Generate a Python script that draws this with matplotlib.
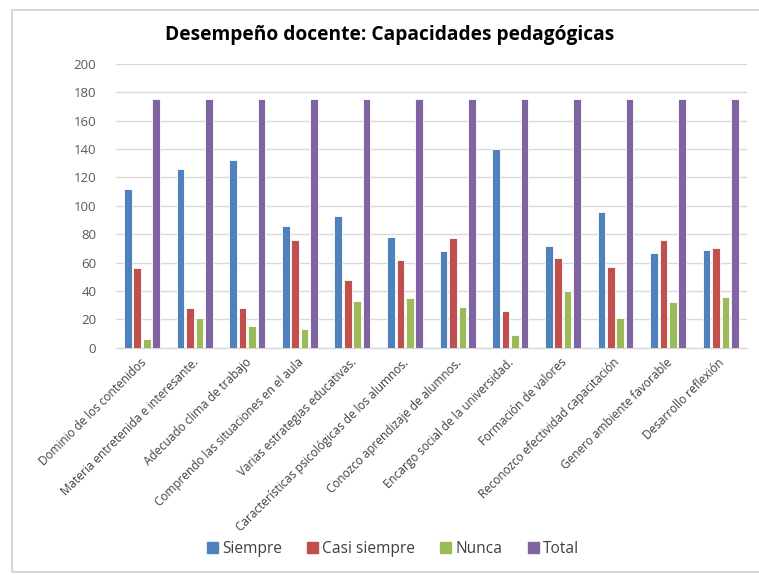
import matplotlib.pyplot as plt
import matplotlib.patches as mpatches
import numpy as np

# ── Data ──────────────────────────────────────────────────────────────────────

categories = [
    "Dominio de los contenidos",
    "Materia entretenida e interesante.",
    "Adecuado clima de trabajo",
    "Comprendo las situaciones en el aula",
    "Varias estrategias educativas.",
    "Características psicológicas de los alumnos.",
    "Conozco aprendizaje de alumnos.",
    "Encargo social de la universidad.",
    "Formación de valores",
    "Reconozco efectividad capacitación",
    "Genero ambiente favorable",
    "Desarrollo reflexión",
]
siempre      = [112, 126, 132, 86, 93, 78, 68, 140, 72, 96, 67, 69]
casi_siempre = [56, 28, 28, 76, 48, 62, 77, 26, 63, 57, 76, 70]
nunca        = [6, 21, 15, 13, 33, 35, 29, 9, 40, 21, 32, 36]
total        = [175, 175, 175, 175, 175, 175, 175, 175, 175, 175, 175, 175]

series_names = ["Siempre", "Casi siempre", "Nunca", "Total"]
series_colors = ["#4F81BD", "#C0504D", "#9BBB59", "#8064A2"]
yticks = [0, 20, 40, 60, 80, 100, 120, 140, 160, 180, 200]

# ── Figure ────────────────────────────────────────────────────────────────────

W, H = 759, 575
fig = plt.figure(figsize=(W / 100, H / 100), dpi=100)
plt.rcParams["font.family"] = ["Open Sans", "DejaVu Sans"]

# outer chart frame
fig.patches.append(mpatches.Rectangle(
    (12 / W, 3 / H), 1.0, (572 - 10) / H, transform=fig.transFigure,
    fill=False, edgecolor="#d0d0d0", linewidth=1.2))

ax = fig.add_axes([115.7 / W, 1 - 347.7 / H, (747 - 115.7) / W, (347.7 - 64) / H])

x = np.arange(len(categories))
step = 0.179
width = 0.145
all_series = [siempre, casi_siempre, nunca, total]
for i, (vals, name, col) in enumerate(zip(all_series, series_names, series_colors)):
    offs = (i - 1.5) * step
    ax.bar(x + offs, vals, width, color=col, label=name,
           edgecolor="white", linewidth=0.6, zorder=3)

ax.set_xlim(-0.5, len(categories) - 0.5)
ax.set_ylim(0, 200)
ax.set_yticks(yticks)
ax.set_yticklabels([str(v) for v in yticks], fontsize=9.5, color="#595959")
ax.grid(axis="y", color="#d9d9d9", linewidth=1.0, zorder=0)
ax.tick_params(axis="y", length=0, pad=14)
ax.tick_params(axis="x", length=0, pad=6)
for s in ["top", "right", "left"]:
    ax.spines[s].set_visible(False)
ax.spines["bottom"].set_color("#d9d9d9")
ax.spines["bottom"].set_linewidth(1.0)

ax.set_xticks(x - 0.05)
ax.set_xticklabels(categories, rotation=45, ha="right", rotation_mode="anchor",
                   fontsize=8.5, color="#404040")

fig.text(390 / W, 1 - 35 / H, "Desempeño docente: Capacidades pedagógicas",
         ha="center", va="center", fontsize=13.8, fontweight="bold", color="black")

handles = [mpatches.Patch(color=c, label=n) for n, c in zip(series_names, series_colors)]
fig.legend(handles=handles, loc="center", bbox_to_anchor=(393 / W, 1 - 549 / H),
           ncol=4, frameon=False, fontsize=11.2, handlelength=0.7, handleheight=0.7,
           handletextpad=0.3, columnspacing=1.6, labelcolor="#404040")

fig.savefig("out.png", dpi=100)
